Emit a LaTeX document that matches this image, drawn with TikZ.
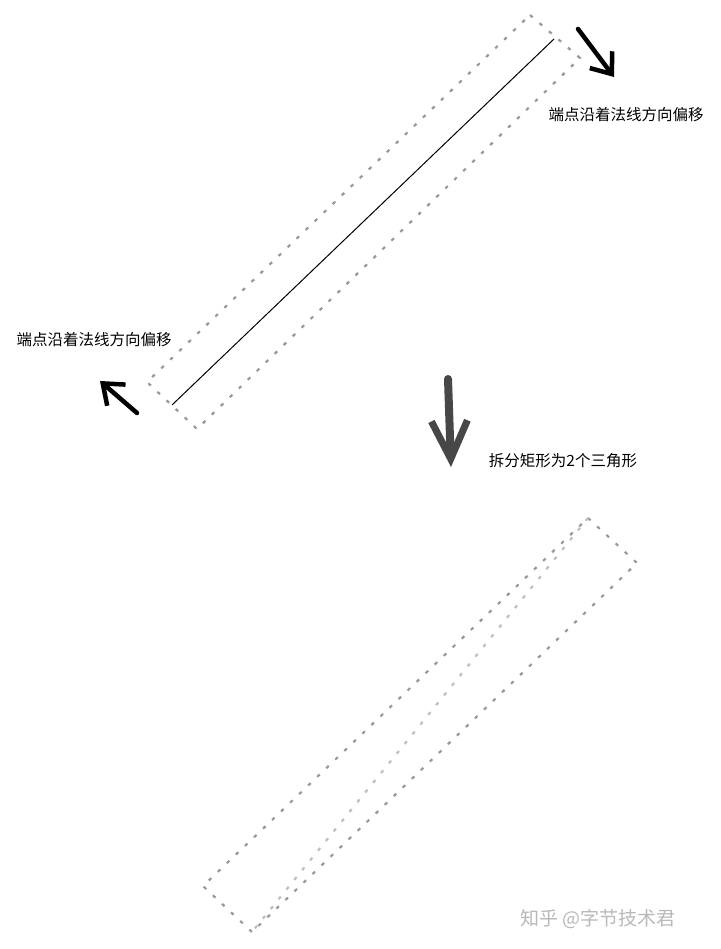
\documentclass[tikz,border=0pt]{standalone}
\usepackage{fontspec}
\newfontfamily\cjk{Noto Sans CJK SC}
\usetikzlibrary{arrows.meta}
\tikzset{
	edgeline/.style={draw=gray!80, line width=2.2pt, dash pattern=on 3.5pt off 9pt},
	pushmark/.style={line width=4.5pt, line cap=round, -{Straight Barb[length=18pt,width=28pt,line width=4.5pt]}},
	label/.style={inner sep=0, font=\cjk\fontsize{15.5}{17}\selectfont}
}
\begin{document}
\begin{tikzpicture}[x=1pt,y=-1pt]
	\useasboundingbox [fill=white] (0,0) rectangle (720,949);
	% before: segment and its widened rectangle
	\coordinate (t1) at (530,15);
	\coordinate (r1) at (580,58);
	\coordinate (b1) at (197,429);
	\coordinate (l1) at (147,382);
	\coordinate (p) at (172,405);
	\coordinate (q) at (554,39);
	\draw [edgeline] (t1) -- (r1) -- (b1) -- (l1) -- cycle;
	\draw [line width=1pt] (p) -- (q);
	% normal offsets at both ends
	\coordinate (ra) at (578,29);
	\coordinate (rb) at (614,77);
	\coordinate (la) at (137,413);
	\coordinate (lb) at (100,381);
	\draw [pushmark] (ra) -- (rb);
	\draw [pushmark] (la) -- (lb);
	\node (rtext) at (626,115) [label] {端点沿着法线方向偏移};
	\node (ltext) at (94,340) [label] {端点沿着法线方向偏移};
	% split step
	\coordinate (da) at (448,379);
	\coordinate (db) at (451,467);
	\draw [line width=8pt, line cap=round, draw=black!72, -{Straight Barb[length=38pt,width=36pt,line width=7pt]}] (da) -- (db);
	\node (mtext) at (563,461) [label] {拆分矩形为2个三角形};
	% after: rectangle with its diagonal
	\coordinate (t2) at (588,518);
	\coordinate (r2) at (637,563);
	\coordinate (b2) at (252,932);
	\coordinate (l2) at (203,886);
	\draw [edgeline] (t2) -- (r2) -- (b2) -- (l2) -- cycle;
	\draw [edgeline, draw=gray!50] (t2) -- (b2);
	\node (mark) at (598,919) [inner sep=0, text=gray!55, font=\cjk\fontsize{19}{21}\selectfont] {知乎 @字节技术君};
\end{tikzpicture}
\end{document}
